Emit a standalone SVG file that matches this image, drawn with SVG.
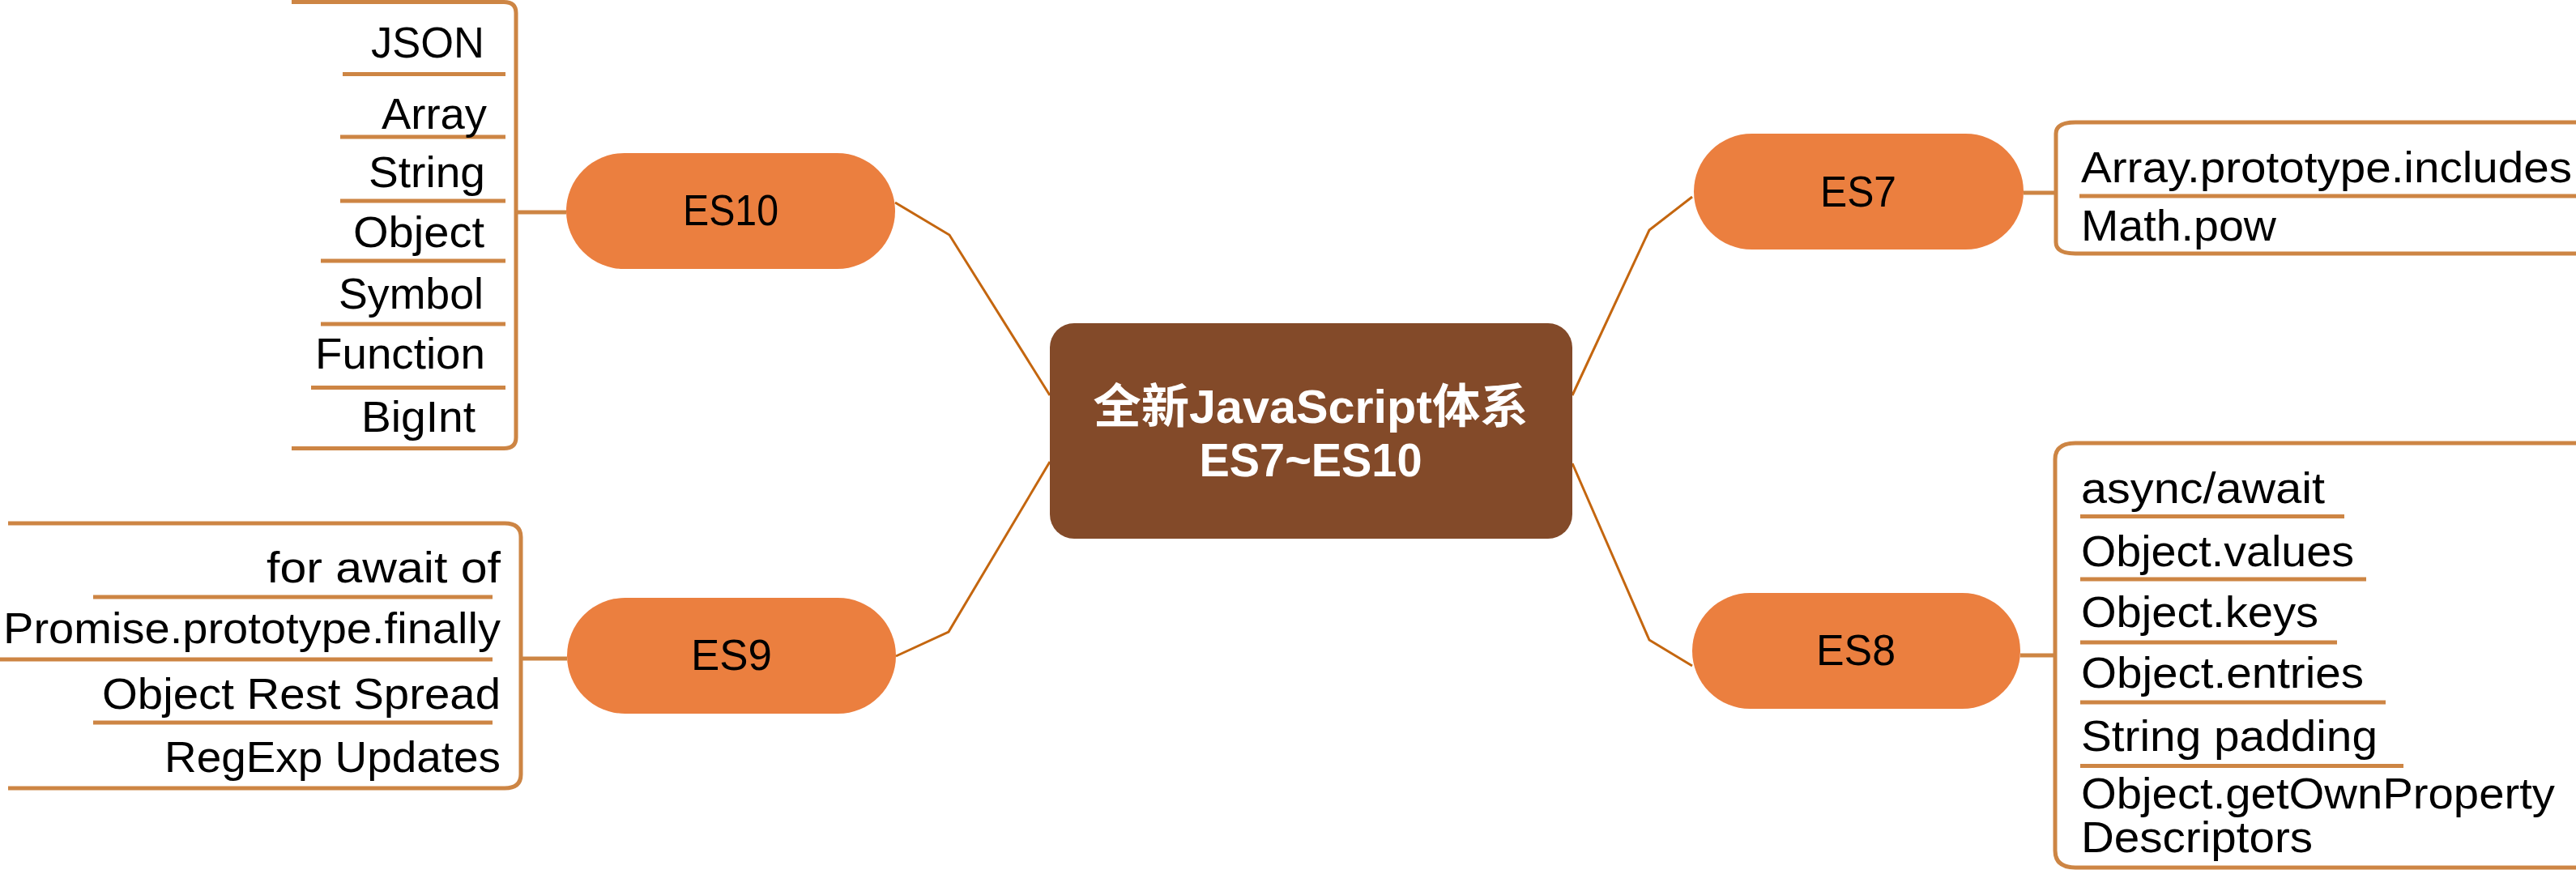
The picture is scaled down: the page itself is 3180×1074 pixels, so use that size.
<svg xmlns="http://www.w3.org/2000/svg" width="3180" height="1074" viewBox="0 0 3180 1074">
<style>
.conn{fill:none;stroke:#C4660F;stroke-width:3;stroke-linejoin:miter}
.br{fill:none;stroke:#CD8544;stroke-width:5}
.ul{fill:none;stroke:#CD8544;stroke-width:5}
.pill{fill:#EB7F3F}
.item{font-family:"Liberation Sans","Noto Sans CJK SC",sans-serif;font-size:54px;fill:#000}
.lab{font-family:"Liberation Sans","Noto Sans CJK SC",sans-serif;font-size:54px;fill:#000;text-anchor:middle}
.ctr{font-family:"Liberation Sans","Noto Sans CJK SC",sans-serif;font-size:58px;font-weight:bold;fill:#fff;text-anchor:middle}
.end{text-anchor:end}
</style>
<rect width="3180" height="1074" fill="#fff"/>
<g id="connectors">
<path class="conn" d="M1296,488 L1172,290 L1105,250"/>
<path class="conn" d="M1296,570 L1171,780 L1106,810"/>
<path class="conn" d="M1941,488 L2036,284 L2089,243"/>
<path class="conn" d="M1941,572 L2036,790 L2089,822"/>
</g>
<g id="center">
<rect x="1296" y="399" width="645" height="266" rx="30" ry="30" fill="#834A29"/>
<text class="ctr" x="1618" y="522" textLength="537" lengthAdjust="spacingAndGlyphs">全新JavaScript体系</text>
<text class="ctr" x="1618" y="588" textLength="275" lengthAdjust="spacingAndGlyphs">ES7~ES10</text>
</g>
<g id="es10">
<rect class="pill" x="699" y="189" width="406" height="143" rx="71.5" ry="71.5"/>
<text class="lab" x="902" y="278" textLength="118" lengthAdjust="spacingAndGlyphs">ES10</text>
<path class="br" d="M360,2.5 H622 Q637,2.5 637,16 V540 Q637,553.5 622,553.5 H360"/>
<path class="br" d="M637,262 H699"/>
<path class="ul" d="M423,91.6 H624 M420,169 H624 M420,248 H624 M396,322 H624 M396,400 H624 M384,478.5 H624"/>
<text class="item end" x="598" y="71" textLength="140" lengthAdjust="spacingAndGlyphs">JSON</text>
<text class="item end" x="601" y="159" textLength="130" lengthAdjust="spacingAndGlyphs">Array</text>
<text class="item end" x="599" y="231" textLength="144" lengthAdjust="spacingAndGlyphs">String</text>
<text class="item end" x="598" y="305" textLength="162" lengthAdjust="spacingAndGlyphs">Object</text>
<text class="item end" x="597" y="381" textLength="179" lengthAdjust="spacingAndGlyphs">Symbol</text>
<text class="item end" x="599" y="455" textLength="210" lengthAdjust="spacingAndGlyphs">Function</text>
<text class="item end" x="587" y="533" textLength="141" lengthAdjust="spacingAndGlyphs">BigInt</text>
</g>
<g id="es9">
<rect class="pill" x="700" y="738" width="406" height="143" rx="71.5" ry="71.5"/>
<text class="lab" x="903" y="827" textLength="100" lengthAdjust="spacingAndGlyphs">ES9</text>
<path class="br" d="M10,646 H623 Q643,646 643,663 V956 Q643,973 623,973 H10"/>
<path class="br" d="M643,813 H700"/>
<path class="ul" d="M115,737 H608 M0,814 H608 M115,892 H608"/>
<text class="item end" x="618" y="719" textLength="289" lengthAdjust="spacingAndGlyphs">for await of</text>
<text class="item end" x="618" y="794" textLength="614" lengthAdjust="spacingAndGlyphs">Promise.prototype.finally</text>
<text class="item end" x="618" y="875" textLength="492" lengthAdjust="spacingAndGlyphs">Object Rest Spread</text>
<text class="item end" x="618" y="953" textLength="415" lengthAdjust="spacingAndGlyphs">RegExp Updates</text>
</g>
<g id="es7">
<rect class="pill" x="2091" y="165" width="407" height="143" rx="71.5" ry="71.5"/>
<text class="lab" x="2294" y="255" textLength="94" lengthAdjust="spacingAndGlyphs">ES7</text>
<path class="br" d="M3180,151 H2562 Q2538,151 2538,165 V299 Q2538,313 2562,313 H3180"/>
<path class="br" d="M2498,238 H2538"/>
<path class="ul" d="M2567,242 H3180"/>
<text class="item" x="2569" y="225" textLength="606" lengthAdjust="spacingAndGlyphs">Array.prototype.includes</text>
<text class="item" x="2569" y="297" textLength="241" lengthAdjust="spacingAndGlyphs">Math.pow</text>
</g>
<g id="es8">
<rect class="pill" x="2089" y="732" width="405" height="143" rx="71.5" ry="71.5"/>
<text class="lab" x="2291" y="821" textLength="98" lengthAdjust="spacingAndGlyphs">ES8</text>
<path class="br" d="M3180,547 H2562 Q2537,547 2537,567 V1050 Q2537,1071 2562,1071 H3180"/>
<path class="br" d="M2494,809 H2537"/>
<path class="ul" d="M2568,637.6 H2894 M2568,715 H2921 M2568,793 H2885 M2568,867 H2945 M2568,945.5 H2967"/>
<text class="item" x="2569" y="621" textLength="301" lengthAdjust="spacingAndGlyphs">async/await</text>
<text class="item" x="2569" y="699" textLength="337" lengthAdjust="spacingAndGlyphs">Object.values</text>
<text class="item" x="2569" y="774" textLength="293" lengthAdjust="spacingAndGlyphs">Object.keys</text>
<text class="item" x="2569" y="848.5" textLength="349" lengthAdjust="spacingAndGlyphs">Object.entries</text>
<text class="item" x="2569" y="927" textLength="366" lengthAdjust="spacingAndGlyphs">String padding</text>
<text class="item" x="2569" y="998" textLength="585" lengthAdjust="spacingAndGlyphs">Object.getOwnProperty</text>
<text class="item" x="2569" y="1052" textLength="286" lengthAdjust="spacingAndGlyphs">Descriptors</text>
</g>
</svg>
